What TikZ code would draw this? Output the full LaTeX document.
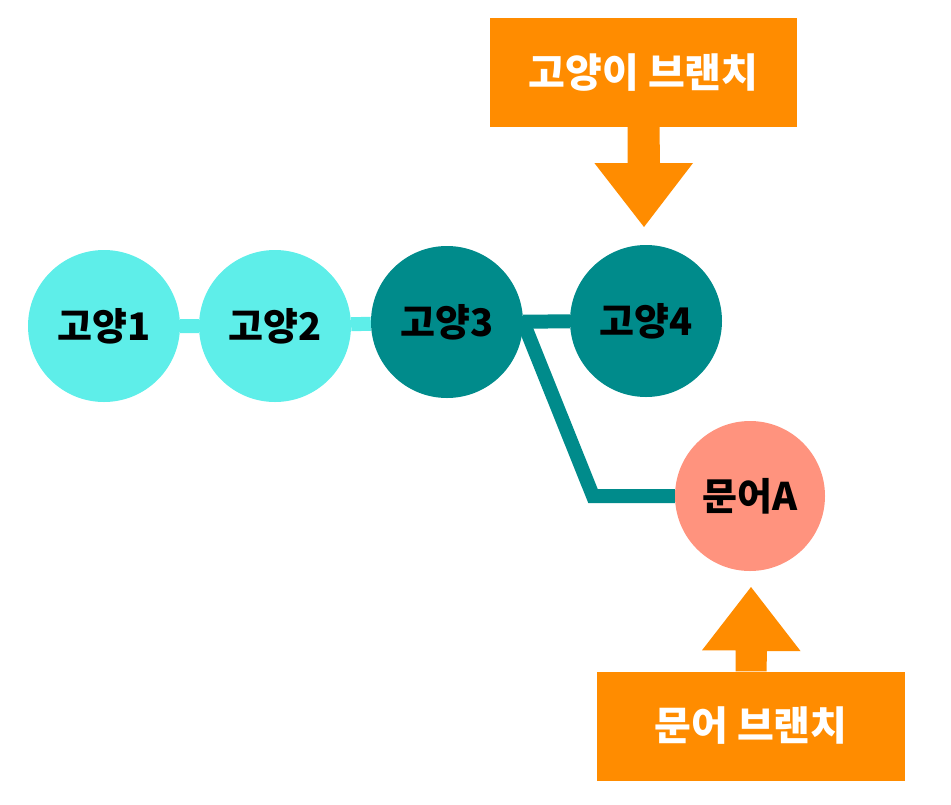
\documentclass[tikz,border=0pt]{standalone}
\usepackage{fontspec}
\setmainfont{Noto Sans CJK KR}
\usetikzlibrary{positioning,backgrounds,calc}

\definecolor{catlight}{HTML}{5EEEE9}
\definecolor{catdark}{HTML}{008B8B}
\definecolor{octopink}{HTML}{FF937E}
\definecolor{branchorange}{HTML}{FF8C00}

\tikzset{
  commit/.style={circle, minimum size=152pt, inner sep=0pt,
    font=\fontsize{38}{42}\selectfont\bfseries},
  branchbox/.style={rectangle, fill=branchorange, text=white, minimum width=307pt,
    minimum height=109pt, inner sep=0pt, font=\fontsize{40}{44}\selectfont\bfseries},
  link/.style={line width=14pt},
}

\begin{document}
\begin{tikzpicture}[x=1pt,y=-1pt]
    \useasboundingbox (0,0) rectangle (951,804);

    % commits
    \node[commit, fill=catlight] (cat1) at (104,326) {고양1};
    \node[commit, fill=catlight] (cat2) at (275,326) {고양2};
    \node[commit, fill=catdark] (cat3) at (447,322) {고양3};
    \node[commit, fill=catdark] (cat4) at (646,321) {고양4};
    \node[commit, fill=octopink, minimum size=150pt] (octoA) at (750,496) {문어A};
    \coordinate (bend) at (593,496);

    % history lines
    \begin{scope}[on background layer]
        \draw[link, catlight] (cat1) -- (cat2) -- (cat3);
        \draw[link, catdark] (cat3) -- (cat4);
        \draw[link, catdark] (cat3.east) -- (bend) -- (octoA);
    \end{scope}

    % branch labels
    \node[branchbox] (catbranch) at (643.5,72.5) {고양이 브랜치};
    \node[branchbox, minimum width=308pt] (octobranch) at (751,726) {문어 브랜치};

    \coordinate (cattip) at (644,227);
    \coordinate (octotip) at (751,587);
    \fill[branchorange] ([xshift=-16pt]catbranch.south) -- ++(0,36) -- ++(-33,0)
        -- (cattip) -- ++(49,-64) -- ++(-33,0) -- ([xshift=16pt]catbranch.south) -- cycle;
    \fill[branchorange] ([xshift=-15.5pt]octobranch.north) -- ++(0,-21) -- ++(-33.5,0)
        -- (octotip) -- ++(49.5,64) -- ++(-33.5,0) -- ([xshift=15.5pt]octobranch.north) -- cycle;
\end{tikzpicture}
\end{document}
